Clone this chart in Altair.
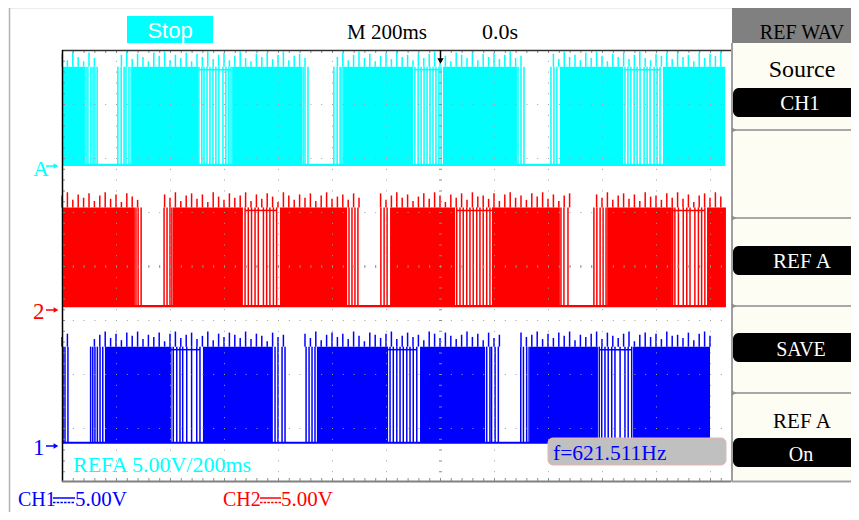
import altair as alt
import pandas as pd

# ---------------- waveform data (time: ms from trigger, level: volts) ----------------
SPIKE_T0_MS = -1400      # time of first overshoot sample
SPIKE_STEP_MS = 20       # spacing of overshoot samples

# REF A (cyan)
REFA_SPAN = [-1400, 1056]
REFA_LOW_V, REFA_HIGH_V = 0.1, 9.2
REFA_BURST_START = [-1400, -1141, -770, -359, 11, 444, 826]
REFA_BURST_END = [-1315, -896, -511, -100, 285, 678, 1056]
REFA_EDGES = [-1311, -1304, -1293, -1285, -1278, -1270,
              -1193, -1181, -1170, -1163, -1152, -1144,
              -893, -882, -874, -863, -852, -841, -830, -819, -804, -793, -782, -774,
              -507, -500, -489,
              -393, -381, -370, -363,
              -93, -81, -70, -59, -48, -37, -26, -15, -4, 4,
              289, 300, 311,
              411, 422, 433,
              685, 696, 707, 719, 730, 741, 756, 767, 778, 793, 804, 815]
REFA_SAG_START = [-893, -93, 685]
REFA_SAG_END = [-774, 4, 815]
# overshoot above the burst top, 0.1 V units (0 = no pulse)
REFA_SPIKE_DV = [12, 6, 14, 9, 5, 13, 8,
                 0, 0, 0, 0,
                 11, 14, 7, 12, 9, 5, 13, 10, 14, 6, 11, 8, 13, 5, 12, 9, 14, 7, 11, 13, 6, 10,
                 14, 8, 5, 12, 9, 13, 7, 11, 14, 6, 10, 12, 8,
                 0, 0, 0, 0, 0,
                 9, 13, 6, 11, 14, 8, 12, 5, 10, 13, 7, 14, 9, 11, 6, 13, 8, 12, 14, 7, 10, 5,
                 13, 11, 8, 14, 6, 12, 9, 13, 7, 11, 14, 8, 10,
                 0, 0, 0, 0, 0,
                 12, 7, 14, 9, 11, 6, 13, 8, 14, 10, 5, 12, 9, 13, 7, 11, 14, 8, 6, 12, 10, 13,
                 7, 14, 9, 11, 5, 13, 8, 12, 10, 14]

# CH2 (red)
CH2_SPAN = [-1396, 1059]
CH2_LOW_V, CH2_HIGH_V = 0.35, 9.5
CH2_BURST_START = [-1396, -989, -593, -185, 196, 619, 989]
CH2_BURST_END = [-1130, -730, -344, 56, 444, 859, 1059]
CH2_EDGES = [-1126, -1118, -1107,
             -1022, -1011, -1000, -993,
             -722, -710, -698, -685, -673, -654, -642, -630, -617, -605,
             -337, -326, -315, -304,
             -219, -207, -196,
             62, 74, 86, 99, 111, 123, 136, 148, 160, 173, 185, 195,
             448, 459, 474,
             570, 581, 593, 604, 615,
             862, 870, 883, 901, 914, 926, 944, 957, 969, 981]
CH2_SAG_START = [-722, 62, 862]
CH2_SAG_END = [-605, 195, 981]
CH2_SPIKE_DV = [11, 14, 7, 12, 9, 13, 6, 11, 14, 8, 12, 5, 13, 10, 7,
                0, 0, 0, 0,
                12, 9, 14, 6, 11, 13, 8, 12, 5, 14, 10, 7, 13, 9, 11, 14, 6, 12, 8, 13, 10, 5,
                14, 11, 7, 12, 9, 13, 6, 11, 14, 8, 10, 12, 7, 13, 9,
                0, 0, 0,
                13, 7, 11, 14, 9, 12, 6, 10, 13, 8, 14, 11, 5, 12, 9, 13, 7, 14, 10, 11, 8, 13,
                6, 12, 14, 9, 11, 7, 13, 10, 14, 8, 12, 6, 11, 13,
                0, 0, 0, 0,
                12, 9, 14, 7, 11, 13, 8, 12, 6, 14, 10, 11, 7, 13, 9, 14, 8, 12, 5, 11, 13, 9,
                14, 10]

# CH1 (blue)
CH1_SPAN = [-1400, 1000]
CH1_LOW_V, CH1_HIGH_V = 0.3, 9.2
CH1_BURST_START = [-1241, -878, -456, -74, 333, 715]
CH1_BURST_END = [-1000, -619, -196, 167, 585, 1000]
CH1_EDGES = [-1396, -1389, -1378,
             -1294, -1286, -1278, -1269, -1259, -1249,
             -997, -988, -975, -963, -953, -938, -920, -901, -889,
             -611, -600, -585, -574,
             -496, -485, -474, -463,
             -195, -185, -173, -160, -148, -136, -123, -111, -99, -86,
             173, 185, 191, 204, 216,
             299, 309, 321, 330,
             590, 599, 611, 623, 636, 648, 667, 685, 697, 710]
CH1_SAG_START = [-997, -195, 590]
CH1_SAG_END = [-889, -86, 710]
CH1_SPIKE_DV = [9, 12,
                0, 0, 0, 0,
                7, 11, 14, 8, 12, 6, 13, 10, 14, 7, 11, 9, 13, 5, 12, 14, 8, 11, 13, 7, 10, 14,
                6, 12, 9, 13, 11, 8, 14, 7, 12, 10, 5, 13, 9, 11,
                0, 0, 0,
                12, 8, 14, 6, 11, 13, 9, 12, 7, 14, 10, 5, 13, 11, 8, 12, 14, 7, 10, 13, 9, 11,
                6, 14, 12, 8, 13, 10, 7, 11, 14, 9, 12, 6, 13, 8, 11,
                0, 0, 0,
                13, 9, 11, 14, 7, 12, 8, 13, 10, 14, 6, 11, 9, 12, 14, 7, 13, 10, 8, 12, 14, 5,
                11, 13, 9, 12, 7, 14, 10, 11, 8, 13, 6, 12, 14, 10]

# ---------------- texts ----------------
TIMEBASE = "M 200ms"
TRIG_POS = "0.0s"
RUN_STATE = "Stop"
REF_INFO = "REFA 5.00V/200ms"
FREQ = "f=621.511Hz"
CH1_SCALE = "5.00V"
CH2_SCALE = "5.00V"
MENU = ["REF WAV", "Source", "CH1", "REF A", "SAVE", "REF A", "On"]

# ---------------- layout (window pixels) ----------------
W, H = 843, 504
OFF = 8
T_DOMAIN = [-1400, 1000]
T_RANGE = [62 - OFF, 710 - OFF]
VOLT_PX = 10.8   # 5 V per 54 px division

FX = alt.Scale(domain=[OFF, W + OFF], range=[0, W])
FY = alt.Scale(domain=[OFF, H + OFF], range=[0, H])


def fx(f):
    return alt.X(f, type="quantitative", scale=FX, axis=None)


def fy(f):
    return alt.Y(f, type="quantitative", scale=FY, axis=None)


def channel(span, low, high, bs, be, edges, sag_s, sag_e, spikes, ground, color):
    xs = alt.Scale(domain=T_DOMAIN, range=T_RANGE)
    ys = alt.Scale(domain=[0, 5], range=[ground - OFF, ground - OFF - 5 * VOLT_PX])

    def X(f):
        return alt.X(f, type="quantitative", scale=xs, axis=None)

    def Y(f):
        return alt.Y(f, type="quantitative", scale=ys, axis=None)

    base_df = pd.DataFrame({"t0": [span[0]], "t1": [span[1]], "v": [low]})
    burst_df = pd.DataFrame({"t0": bs, "t1": be, "lo": low, "hi": high})
    edge_df = pd.DataFrame({"t": edges, "lo": low, "hi": high})
    sag_df = pd.DataFrame({"t0": sag_s, "t1": sag_e, "v": high - 0.28})
    rows = [(SPIKE_T0_MS + SPIKE_STEP_MS * i, high, high + d / 10.0)
            for i, d in enumerate(spikes) if d > 0]
    spike_df = pd.DataFrame(rows, columns=["t", "hi", "top"])

    baseline = alt.Chart(base_df).mark_rule(color=color, strokeWidth=2.2).encode(
        x=X("t0"), x2="t1", y=Y("v"))
    bursts = alt.Chart(burst_df).mark_rect(color=color).encode(
        x=X("t0"), x2="t1", y=Y("lo"), y2="hi")
    edge_l = alt.Chart(edge_df).mark_rule(color=color, strokeWidth=1.5).encode(
        x=X("t"), y=Y("lo"), y2="hi")
    sag = alt.Chart(sag_df).mark_rule(color=color, strokeWidth=1.5).encode(
        x=X("t0"), x2="t1", y=Y("v"))
    spk = alt.Chart(spike_df).mark_rule(color=color, strokeWidth=1.5).encode(
        x=X("t"), y=Y("hi"), y2="top")
    return alt.layer(baseline, bursts, edge_l, sag, spk)


CYAN, RED, BLUE = "#00ffff", "#ff0000", "#0000ff"
GROUND_A, GROUND_2, GROUND_1 = 166, 310, 446

wave_a = channel(REFA_SPAN, REFA_LOW_V, REFA_HIGH_V, REFA_BURST_START, REFA_BURST_END,
                 REFA_EDGES, REFA_SAG_START, REFA_SAG_END, REFA_SPIKE_DV, GROUND_A, CYAN)
wave_2 = channel(CH2_SPAN, CH2_LOW_V, CH2_HIGH_V, CH2_BURST_START, CH2_BURST_END,
                 CH2_EDGES, CH2_SAG_START, CH2_SAG_END, CH2_SPIKE_DV, GROUND_2, RED)
wave_1 = channel(CH1_SPAN, CH1_LOW_V, CH1_HIGH_V, CH1_BURST_START, CH1_BURST_END,
                 CH1_EDGES, CH1_SAG_START, CH1_SAG_END, CH1_SPIKE_DV, GROUND_1, BLUE)

# ---------------- screen furniture ----------------
PL, PR, PT, PB = 62, 731, 50, 482
GRID_X = [62.5 + 54 * k for k in range(1, 13) if k != 7]
GRID_Y = [50.5 + 54 * k for k in range(1, 8) if k != 4]

dots = []
for gx in GRID_X:
    dots.append((gx, gx, PT, PB, "#a0a0a0", 1))
for gy in GRID_Y:
    dots.append((PL, PR, gy, gy, "#a0a0a0", 1))
dots += [
    (440.5, 440.5, PT, PB, "#8c8c8c", 3),     # centre vertical ticks
    (PL, PR, 266.5, 266.5, "#8c8c8c", 3),     # centre horizontal ticks
    (PL, PR, 51.5, 51.5, "#8c8c8c", 3),       # top edge ticks
    (63.5, 63.5, PT, PB, "#8c8c8c", 3),       # left edge ticks
    (PL, PR, 479.5, 479.5, "#8c8c8c", 3),     # bottom edge ticks
]
dots_df = pd.DataFrame(dots, columns=["x", "x2", "y", "y2", "c", "w"])

solid = [
    (PL, PR, 50.5, 50.5, "#303030", 1.5),
    (62.5, 62.5, PT, PB, "#000000", 1.5),
    (PL, PR, 481.5, 481.5, "#808080", 2),
    (9, 732, 7.5, 7.5, "#b4b4b4", 1.5),
    (9.5, 9.5, 7, 520, "#b4b4b4", 1.5),
    (440.5, 440.5, 50, 60, "#000000", 1.5),
    (46, 54, GROUND_A, GROUND_A, CYAN, 1.5),
    (46, 54, GROUND_2, GROUND_2, RED, 1.5),
    (46, 54, GROUND_1, GROUND_1, BLUE, 1.5),
    (53, 75, 498, 498, BLUE, 1.5),
    (260, 281, 498, 498, RED, 1.5),
]
solid_df = pd.DataFrame(solid, columns=["x", "x2", "y", "y2", "c", "w"])

dashed = [
    (53, 75, 502.5, 502.5, BLUE, 1.5),
    (260, 281, 502.5, 502.5, RED, 1.5),
]
dashed_df = pd.DataFrame(dashed, columns=["x", "x2", "y", "y2", "c", "w"])

panel_rules = [
    (732, 732, 43, 482, "#a0a0a0", 2),
    (732, 870, 481.5, 481.5, "#a0a0a0", 2),
] + [(733, 870, y, y, "#a8a8a8", 2) for y in (130, 218, 306, 393)]
panel_rules_df = pd.DataFrame(panel_rules, columns=["x", "x2", "y", "y2", "c", "w"])


def rules(df, **kw):
    return alt.Chart(df).mark_rule(**kw).encode(
        x=fx("x"), x2="x2", y=fy("y"), y2="y2",
        color=alt.Color("c:N", scale=None), size=alt.Size("w:Q", scale=None))


def rects(rows, **kw):
    df = pd.DataFrame(rows, columns=["x", "x2", "y", "y2", "c"])
    return alt.Chart(df).mark_rect(**kw).encode(
        x=fx("x"), x2="x2", y=fy("y"), y2="y2", color=alt.Color("c:N", scale=None))


def points(rows, shape, size):
    df = pd.DataFrame(rows, columns=["x", "y", "c"])
    return alt.Chart(df).mark_point(shape=shape, filled=True, size=size, opacity=1).encode(
        x=fx("x"), y=fy("y"), color=alt.Color("c:N", scale=None))


def texts(rows, font, align):
    df = pd.DataFrame(rows, columns=["x", "y", "text", "c", "s"])
    return alt.Chart(df).mark_text(font=font, align=align, baseline="alphabetic").encode(
        x=fx("x"), y=fy("y"), text="text:N",
        color=alt.Color("c:N", scale=None), size=alt.Size("s:Q", scale=None))


freq_box = rects([(548, 726, 438, 465, "#c0c0c0")], cornerRadius=5,
                 stroke="#e8b4b4", strokeWidth=1)
stop_box = rects([(127, 213, 16, 43, CYAN)])
panel_bg = rects([(733, 880, 43, 482, "#fdfdf4")], cornerRadius=6)
header = rects([(732, 880, 7, 43, "#808080")])
black_boxes = rects([(733, 890, 88, 117, "#000000"), (733, 890, 246, 275, "#000000"),
                     (733, 890, 333, 362, "#000000"), (733, 890, 438, 467, "#000000")],
                    cornerRadius=6)

tri_right = points([(56, GROUND_A, CYAN), (56, GROUND_2, RED), (56, GROUND_1, BLUE)] +
                   [(734, y, "#909090") for y in (130, 218, 306, 393)], "triangle-right", 30)
tri_down = points([(440.5, 61, "#000000")], "triangle-down", 40)

serif_left = texts([
    (347, 39, TIMEBASE, "#000000", 21),
    (482, 39, TRIG_POS, "#000000", 22),
    (73, 472, REF_INFO, CYAN, 22),
    (553, 460, FREQ, BLUE, 21.5),
    (18, 506, "CH1", BLUE, 20),
    (75, 506, CH1_SCALE, BLUE, 21),
    (223, 506, "CH2", RED, 20),
    (281, 506, CH2_SCALE, RED, 21),
    (33, 176, "A", CYAN, 22),
    (33, 319, "2", RED, 23),
    (33, 455, "1", BLUE, 23),
], "Liberation Serif", "left")

menu_rows = [
    (802, 39, MENU[0], "#000000", 20),
    (802, 77, MENU[1], "#000000", 24),
    (800, 110, MENU[2], "#ffffff", 21),
    (802, 268, MENU[3], "#ffffff", 21),
    (801, 356, MENU[4], "#ffffff", 20),
    (802, 428, MENU[5], "#000000", 21),
    (801, 461, MENU[6], "#ffffff", 20),
]
serif_center = texts(menu_rows, "Liberation Serif", "center")
sans_center = texts([(170, 38, RUN_STATE, "#ffffff", 22)], "Liberation Sans", "center")

chart = alt.layer(
    wave_a, wave_2, wave_1,
    rules(dots_df, strokeDash=[1, 9.8]),
    rules(solid_df),
    rules(dashed_df, strokeDash=[2.5, 1.2]),
    freq_box, stop_box,
    panel_bg, header, black_boxes,
    rules(panel_rules_df),
    tri_right, tri_down,
    serif_left, serif_center, sans_center,
).resolve_scale(
    x="independent", y="independent"
).properties(
    width=W, height=H, padding=0, autosize=alt.AutoSizeParams(type="none"),
    background="#ffffff"
).configure_view(stroke=None)

chart.save("out.html", embed_options={"renderer": "svg", "actions": False})
